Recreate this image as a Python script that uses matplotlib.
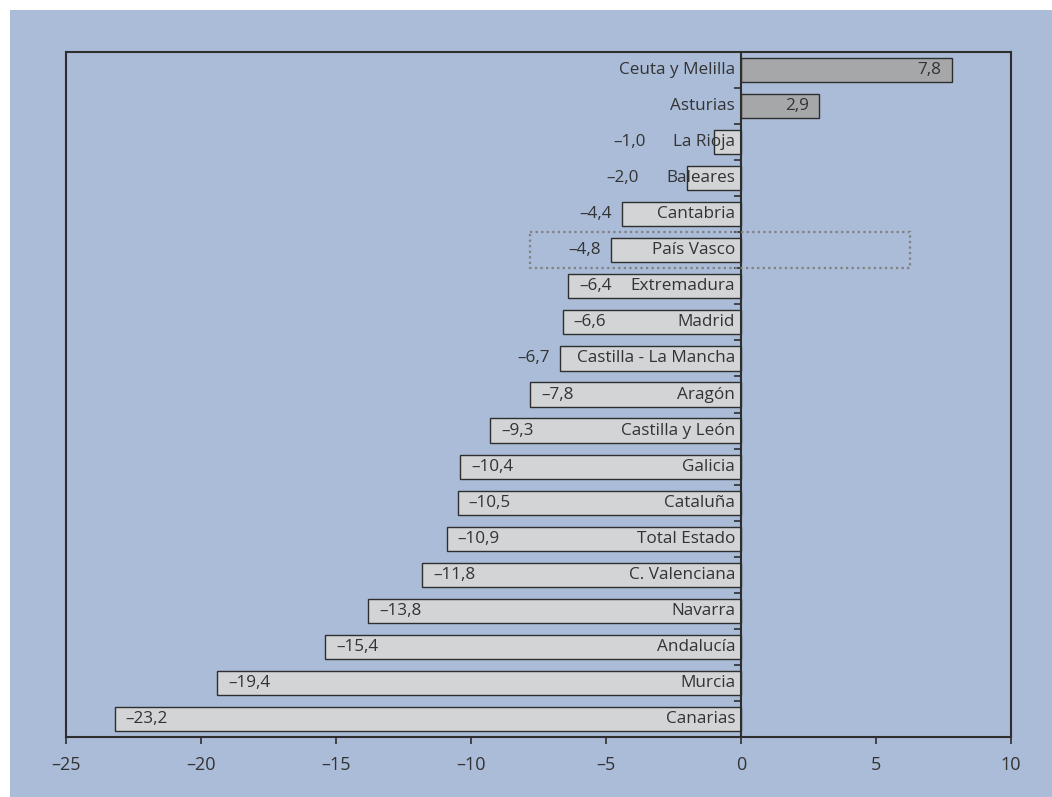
import matplotlib.pyplot as plt
from matplotlib.patches import Rectangle

plt.rcParams['font.family'] = ['Open Sans', 'DejaVu Sans']

# Variacion por comunidades autonomas
comunidades = ["Ceuta y Melilla", "Asturias", "La Rioja", "Baleares", "Cantabria",
               "País Vasco", "Extremadura", "Madrid", "Castilla - La Mancha", "Aragón",
               "Castilla y León", "Galicia", "Cataluña", "Total Estado", "C. Valenciana",
               "Navarra", "Andalucía", "Murcia", "Canarias"]
valores = [7.8, 2.9, -1.0, -2.0, -4.4, -4.8, -6.4, -6.6, -6.7, -7.8,
           -9.3, -10.4, -10.5, -10.9, -11.8, -13.8, -15.4, -19.4, -23.2]
marcada = "País Vasco"
xticks = [-25, -20, -15, -10, -5, 0, 5, 10]

fondo = '#abbcd8'
texto = '#333333'
tam = 12.3

fig = plt.figure(figsize=(10.52, 7.97), dpi=100, facecolor='white')
fig.patches.append(Rectangle((10 / 1052, 0), 1, (797 - 10) / 797, transform=fig.transFigure,
                             facecolor=fondo, edgecolor='none', zorder=-10))
ax = fig.add_axes([66 / 1052, 60 / 797, (1011 - 66) / 1052, (737 - 52) / 797])
ax.set_facecolor(fondo)

pos = list(range(len(comunidades)))
colores = ['#a6a7a9' if v > 0 else '#d3d4d6' for v in valores]
ax.barh(pos, valores, height=0.67, color=colores, edgecolor='#2e2e2e', linewidth=1.0, zorder=2)

ax.set_xlim(-25, 10)
ax.set_ylim(len(comunidades) - 0.5, -0.5)

# eje vertical en el cero, con marcas entre barras
ax.spines['left'].set_position(('data', 0))
ax.plot([0, 0], [0, 1], transform=ax.transAxes, color='#2e2e2e', lw=1.5, clip_on=False, zorder=3)
for s in ax.spines.values():
    s.set_color('#2e2e2e')
    s.set_linewidth(1.5)
ax.spines['left'].set_zorder(4)
ax.set_yticks([p + 0.5 for p in pos[:-1]])
ax.set_yticklabels([])
ax.tick_params(axis='y', direction='out', length=5, width=1.2, color='#2e2e2e')
ax.set_xticks(xticks)
ax.set_xticklabels([str(t).replace('-', '–') for t in xticks])
ax.tick_params(axis='x', direction='out', length=5, width=1.2, color='#2e2e2e',
               labelsize=13, labelcolor=texto, pad=9)

def fmt(v):
    return f"{v:.1f}".replace('.', ',').replace('-', '–')

nombres = []
for p, nom in zip(pos, comunidades):
    t = ax.annotate(nom, (0, p), xytext=(-6, 0), textcoords='offset pixels',
                    ha='right', va='center', fontsize=tam, color=texto, zorder=5)
    nombres.append(t)

fig.canvas.draw()
rend = fig.canvas.get_renderer()

for p, v, t in zip(pos, valores, nombres):
    etiqueta = ax.annotate(fmt(v), (v, p), xytext=(0, 0), textcoords='offset pixels',
                           va='center', fontsize=tam, color=texto, zorder=5)
    ancho = etiqueta.get_window_extent(rend).width
    if v > 0:
        etiqueta.set_ha('right')
        etiqueta.xyann = (-10, 0)
        continue
    barra_px = ax.transData.transform((v, p))[0]
    cero_px = ax.transData.transform((0, p))[0]
    nombre_bb = t.get_window_extent(rend)
    if cero_px - barra_px > 11 + ancho + 6 + nombre_bb.width + 6:
        etiqueta.set_ha('left')
        etiqueta.xyann = (11, 0)
    else:
        derecha = min(barra_px - 10, nombre_bb.x0 - 27)
        etiqueta.set_ha('right')
        etiqueta.xyann = (derecha - barra_px, 0)

# recuadro punteado de la comunidad destacada
i = comunidades.index(marcada)
ax.add_patch(Rectangle((-7.8, i - 0.5), 7.8 + 6.25, 1.0, fill=False, edgecolor='#808080',
                       linestyle=(0, (1, 1.5)), linewidth=1.6, zorder=6, clip_on=False))

plt.savefig('out.png', dpi=100, facecolor=fig.get_facecolor())
